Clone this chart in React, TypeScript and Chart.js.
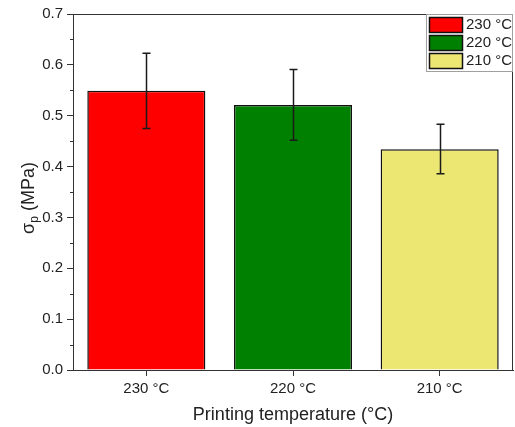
import React, { useEffect, useRef } from "react";
import { Chart, registerables } from "chart.js";

Chart.register(...registerables);

const categories = ["230 °C", "220 °C", "210 °C"];
const values = [0.549, 0.521, 0.434];
const errLow = [0.475, 0.452, 0.386];
const errHigh = [0.623, 0.591, 0.483];
const colors = ["#ff0000", "#008000", "#ece673"];
const yTicks = [0, 0.1, 0.2, 0.3, 0.4, 0.5, 0.6, 0.7];

const FONT = "'Liberation Sans', Arial, sans-serif";

const extras = {
  id: "extras",
  afterDatasetsDraw(chart: any) {
    const ctx = chart.ctx;
    const { left, right, top, bottom } = chart.chartArea;
    const xs = chart.scales.x;
    const ys = chart.scales.y;
    ctx.save();
    // error bars
    ctx.strokeStyle = "#1a1a1a";
    ctx.lineWidth = 1.5;
    values.forEach((_, i) => {
      const x = Math.round(xs.getPixelForValue(i)) + 0.5;
      const y1 = ys.getPixelForValue(errHigh[i]);
      const y2 = ys.getPixelForValue(errLow[i]);
      ctx.beginPath();
      ctx.moveTo(x, y1);
      ctx.lineTo(x, y2);
      ctx.moveTo(x - 4, y1);
      ctx.lineTo(x + 4, y1);
      ctx.moveTo(x - 4, y2);
      ctx.lineTo(x + 4, y2);
      ctx.stroke();
    });
    // frame
    ctx.strokeStyle = "#333";
    ctx.lineWidth = 1;
    ctx.beginPath();
    ctx.moveTo(left, top + 0.5);
    ctx.lineTo(right - 0.5, top + 0.5);
    ctx.lineTo(right - 0.5, bottom);
    ctx.stroke();
    // minor ticks
    for (let v = 0.05; v < 0.7; v += 0.1) {
      const y = Math.round(ys.getPixelForValue(v)) + 0.5;
      ctx.beginPath();
      ctx.moveTo(left - 3, y);
      ctx.lineTo(left, y);
      ctx.stroke();
    }
    // legend
    const lx = 426, ly = 14, lw = right - 426, lh = 58;
    ctx.fillStyle = "#fff";
    ctx.fillRect(lx, ly, lw, lh);
    ctx.strokeStyle = "#a0a0a0";
    ctx.strokeRect(lx + 0.5, ly + 0.5, lw - 1, lh - 1);
    ctx.font = `15px ${FONT}`;
    ctx.textBaseline = "middle";
    ctx.textAlign = "left";
    categories.forEach((c, i) => {
      const sy = 17 + i * 18;
      ctx.fillStyle = colors[i];
      ctx.fillRect(429, sy, 33, 15);
      ctx.strokeStyle = "#111";
      ctx.lineWidth = 1.5;
      ctx.strokeRect(429.5, sy + 0.5, 33, 15);
      ctx.fillStyle = "#222";
      ctx.fillText(c, 466, sy + 8);
    });
    // axis titles
    ctx.fillStyle = "#222";
    ctx.font = `18px ${FONT}`;
    ctx.textAlign = "center";
    ctx.textBaseline = "middle";
    ctx.fillText("Printing temperature (°C)", (left + right) / 2, 415);
    ctx.translate(28, 198);
    ctx.rotate(-Math.PI / 2);
    const s1 = "σ";
    const s3 = " (MPa)";
    ctx.font = `18px ${FONT}`;
    const w1 = ctx.measureText(s1).width;
    const w3 = ctx.measureText(s3).width;
    ctx.font = `12px ${FONT}`;
    const w2 = ctx.measureText("p").width;
    const total = w1 + w2 + w3;
    let cx = -total / 2;
    ctx.textAlign = "left";
    ctx.textBaseline = "alphabetic";
    ctx.font = `18px ${FONT}`;
    ctx.fillText(s1, cx, 6);
    cx += w1;
    ctx.font = `12px ${FONT}`;
    ctx.fillText("p", cx, 10);
    cx += w2;
    ctx.font = `18px ${FONT}`;
    ctx.fillText(s3, cx, 6);
    ctx.restore();
  },
};

export default function App() {
  const ref = useRef<HTMLCanvasElement>(null);
  useEffect(() => {
    document.body.style.margin = "0";
    const chart = new Chart(ref.current!, {
      type: "bar",
      data: {
        labels: categories,
        datasets: [
          {
            data: values,
            backgroundColor: colors,
            borderColor: "#111",
            borderWidth: 1.5,
            barPercentage: 0.805,
            categoryPercentage: 1,
          },
        ],
      },
      options: {
        responsive: false,
        animation: false,
        layout: { padding: { top: 14, right: 2, left: 0, bottom: 0 } },
        plugins: { legend: { display: false }, tooltip: { enabled: false } },
        scales: {
          x: {
            grid: { offset: false, drawOnChartArea: false, drawTicks: true, tickLength: 6, color: "#333" },
            border: { color: "#333", width: 1 },
            ticks: { color: "#222", font: { family: FONT, size: 15 }, padding: 4 },
            afterFit: (s: any) => { s.height = 57; },
          },
          y: {
            min: 0,
            max: 0.7,
            afterBuildTicks: (s: any) => { s.ticks = yTicks.map((v) => ({ value: v })); },
            grid: { drawOnChartArea: false, drawTicks: true, tickLength: 6, color: "#333" },
            border: { color: "#333", width: 1 },
            ticks: {
              color: "#222",
              font: { family: FONT, size: 15 },
              padding: 4,
              callback: (v: any) => Number(v).toFixed(1),
            },
            afterFit: (s: any) => { s.width = 73; },
          },
        },
      },
      plugins: [extras],
    });
    return () => chart.destroy();
  }, []);
  return (
    <div style={{ width: 515, height: 427 }}>
      <canvas ref={ref} width={515} height={427} style={{ display: "block" }} />
    </div>
  );
}
